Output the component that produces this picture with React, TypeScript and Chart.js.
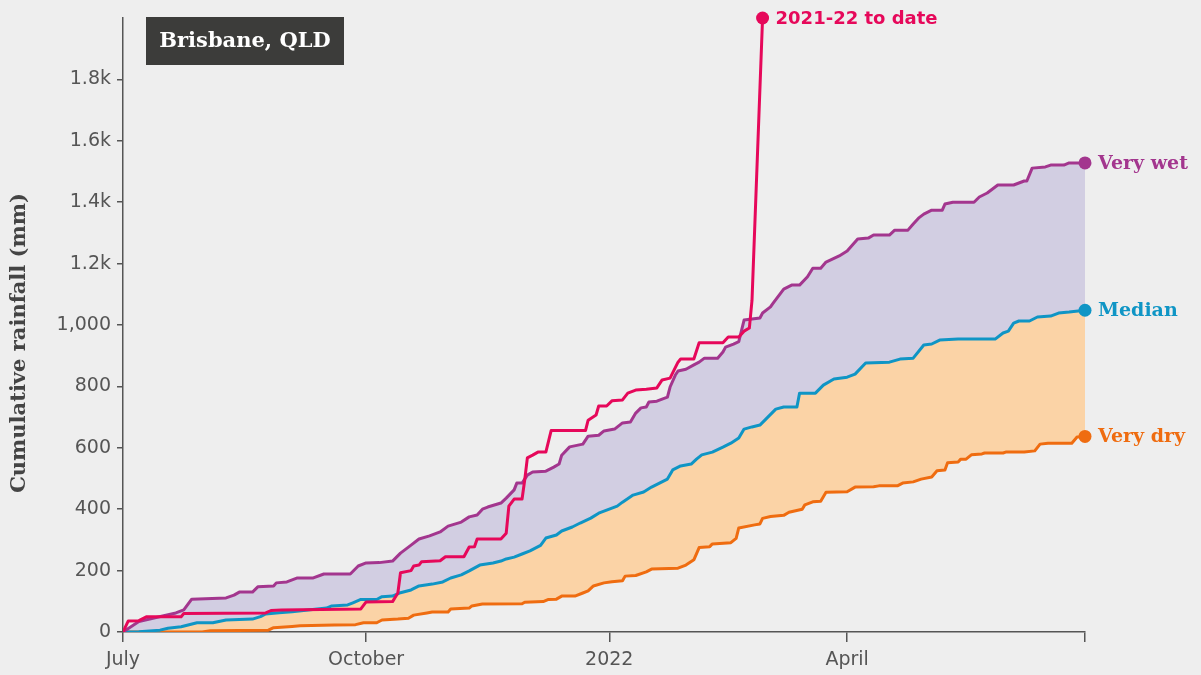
import React, { useEffect, useRef } from "react";
import { Chart, registerables } from "chart.js";

Chart.register(...registerables);

// ---- Axis ticks ----
const xTickDays = [0, 92, 184, 274, 364];
const xTickLabels = ["July", "October", "2022", "April", ""];
const yTickValues = [0, 200, 400, 600, 800, 1000, 1200, 1400, 1600, 1800];
const yTickLabels = ["0", "200", "400", "600", "800", "1,000", "1.2k", "1.4k", "1.6k", "1.8k"];

// ---- Series: [day since 1 July, cumulative mm] ----
const toDate2122: [number, number][] = [
  [0, 0], [2, 36], [6, 37], [9, 50], [22, 50], [23, 60], [54, 62], [56, 70], [60, 72],
  [90, 75], [92, 98], [102, 99], [104, 127], [105, 193], [109, 200], [110, 215],
  [112, 218], [113, 229], [120, 232], [122, 245], [129, 245], [131, 277], [133, 278],
  [134, 303], [143, 303], [145, 322], [146, 410], [148, 433], [151, 433], [152, 495],
  [153, 567], [155, 576], [157, 586], [160, 586], [162, 656], [175, 656], [176, 690],
  [179, 707], [180, 736], [183, 736], [185, 753], [189, 756], [191, 778], [194, 788],
  [198, 791], [202, 795], [204, 821], [207, 827], [210, 879], [211, 889], [216, 889],
  [218, 942], [227, 942], [229, 961], [233, 961], [235, 980], [237, 990], [238, 1080],
  [242, 2000],
];

const veryWet: [number, number][] = [
  [0, 0], [6, 34], [15, 52], [20, 62], [23, 72], [26, 107], [39, 111], [42, 120],
  [44, 130], [49, 130], [51, 147], [57, 150], [58, 160], [62, 163], [66, 176], [72, 176],
  [76, 189], [86, 189], [89, 215], [92, 225], [97, 226], [102, 231], [105, 257],
  [109, 283], [112, 303], [116, 313], [120, 326], [123, 345], [128, 358], [131, 375],
  [134, 381], [136, 400], [138, 407], [143, 420], [145, 436], [148, 463], [149, 485],
  [151, 485], [153, 511], [155, 521], [160, 524], [163, 537], [165, 547], [166, 576],
  [169, 603], [174, 612], [176, 638], [180, 641], [182, 655], [186, 661], [189, 681],
  [192, 684], [194, 713], [196, 730], [198, 733], [199, 749], [202, 752], [206, 765],
  [207, 798], [209, 837], [210, 850], [213, 856], [216, 870], [218, 879], [220, 892],
  [225, 892], [227, 912], [228, 928], [231, 938], [233, 946], [235, 1016], [241, 1023],
  [242, 1039], [245, 1059], [246, 1071], [250, 1117], [253, 1130], [256, 1130],
  [259, 1157], [261, 1185], [264, 1185], [266, 1205], [271, 1225], [274, 1241],
  [278, 1280], [282, 1283], [284, 1293], [290, 1293], [292, 1309], [297, 1309],
  [299, 1329], [301, 1348], [303, 1361], [306, 1374], [310, 1374], [311, 1394],
  [314, 1400], [322, 1400], [324, 1417], [327, 1430], [331, 1456], [337, 1456],
  [341, 1469], [342, 1469], [344, 1511], [349, 1515], [351, 1521], [356, 1521],
  [358, 1528], [364, 1528],
];

const median: [number, number][] = [
  [0, 0], [6, 1], [14, 6], [17, 12], [22, 17], [28, 30], [34, 30], [39, 39], [49, 42],
  [52, 50], [54, 59], [59, 63], [64, 66], [77, 78], [79, 85], [85, 88], [87, 95],
  [90, 106], [96, 106], [98, 115], [102, 117], [105, 128], [109, 137], [112, 150],
  [117, 156], [121, 163], [124, 176], [128, 186], [131, 199], [135, 218], [140, 225],
  [143, 231], [145, 238], [148, 244], [151, 254], [154, 264], [158, 282], [160, 306],
  [164, 316], [166, 329], [170, 342], [173, 355], [177, 371], [180, 387], [183, 397],
  [187, 410], [189, 423], [193, 446], [197, 456], [200, 472], [203, 485], [206, 498],
  [208, 528], [211, 541], [215, 547], [217, 563], [219, 577], [223, 586], [227, 602],
  [230, 615], [233, 632], [235, 661], [238, 668], [241, 674], [244, 700], [247, 726],
  [250, 733], [255, 733], [256, 778], [262, 778], [265, 804], [269, 824], [274, 830],
  [277, 840], [281, 876], [290, 879], [294, 889], [299, 892], [303, 935], [306, 938],
  [309, 951], [316, 954], [330, 954], [333, 974], [335, 980], [337, 1006], [339, 1013],
  [343, 1013], [346, 1026], [351, 1029], [354, 1039], [358, 1042], [364, 1048],
];

const veryDry: [number, number][] = [
  [0, 0], [30, 0], [33, 4], [55, 6], [57, 14], [64, 18], [67, 20], [80, 23], [88, 24],
  [91, 30], [96, 30], [98, 39], [104, 42], [108, 45], [110, 55], [115, 62], [117, 65],
  [123, 65], [124, 75], [131, 78], [132, 85], [136, 91], [151, 92], [152, 97],
  [159, 99], [161, 106], [164, 107], [166, 117], [171, 117], [174, 127], [176, 134],
  [178, 150], [182, 160], [185, 164], [189, 167], [190, 182], [194, 184], [198, 196],
  [200, 205], [210, 208], [213, 218], [216, 235], [218, 275], [222, 278], [223, 287],
  [230, 291], [232, 305], [233, 339], [239, 349], [241, 352], [242, 370], [245, 376],
  [250, 380], [252, 390], [257, 400], [258, 414], [261, 424], [264, 426], [266, 455],
  [274, 457], [277, 472], [284, 473], [286, 476], [293, 476], [295, 485], [299, 489],
  [302, 498], [306, 505], [308, 525], [311, 528], [312, 551], [316, 554], [317, 563],
  [319, 563], [321, 577], [325, 580], [326, 583], [333, 583], [334, 586], [341, 586],
  [345, 590], [347, 612], [350, 615], [359, 615], [361, 635], [364, 637],
];

const seriesNames = ["2021-22 to date", "Very wet", "Median", "Very dry"];
const seriesColors = ["#e6085a", "#a3368e", "#0f95c5", "#ef6c10"];
const fillColors = ["", "#d2cee2", "#fbd3a6", ""];
const titleText = "Brisbane, QLD";
const yAxisTitle = "Cumulative rainfall (mm)";

const SLAB = "'DejaVu Serif', serif";
const SANS = "'DejaVu Sans', sans-serif";

const toPts = (arr: [number, number][]) => arr.map(([x, y]) => ({ x, y }));

export default function App() {
  const ref = useRef<HTMLCanvasElement | null>(null);

  useEffect(() => {
    document.body.style.margin = "0";
    document.body.style.background = "#eeeeee";
    const canvas = ref.current;
    if (!canvas) return;

    const overlay = {
      id: "overlay",
      afterDatasetsDraw(chart: any) {
        const ctx = chart.ctx;
        ctx.save();
        chart.data.datasets.forEach((ds: any, i: number) => {
          const meta = chart.getDatasetMeta(i);
          const last = meta.data[meta.data.length - 1];
          if (!last) return;
          const color = seriesColors[i];
          ctx.fillStyle = color;
          ctx.beginPath();
          ctx.arc(last.x, last.y, 6.5, 0, Math.PI * 2);
          ctx.fill();
          ctx.textBaseline = "middle";
          ctx.textAlign = "left";
          ctx.font = i === 0 ? `bold 18px ${SANS}` : `bold 19px ${SLAB}`;
          ctx.fillText(seriesNames[i], last.x + 13, last.y + 1);
        });
        ctx.restore();
      },
      afterDraw(chart: any) {
        const ctx = chart.ctx;
        ctx.save();
        // title box
        ctx.fillStyle = "#3c3c3a";
        ctx.fillRect(146, 17, 198, 48);
        ctx.fillStyle = "#ffffff";
        ctx.font = `bold 21px ${SLAB}`;
        ctx.textAlign = "center";
        ctx.textBaseline = "middle";
        ctx.fillText(titleText, 245, 42);
        // y axis title
        ctx.translate(20, 343);
        ctx.rotate(-Math.PI / 2);
        ctx.fillStyle = "#444444";
        ctx.font = `bold 21px ${SLAB}`;
        ctx.fillText(yAxisTitle, 0, 0);
        ctx.restore();
      },
    };

    const chart = new Chart(canvas, {
      type: "line",
      data: {
        datasets: [
          {
            label: seriesNames[0],
            data: toPts(toDate2122),
            borderColor: seriesColors[0],
            borderWidth: 3,
            fill: false,
          },
          {
            label: seriesNames[1],
            data: toPts(veryWet),
            borderColor: seriesColors[1],
            backgroundColor: fillColors[1],
            borderWidth: 3,
            fill: { target: 2 },
          },
          {
            label: seriesNames[2],
            data: toPts(median),
            borderColor: seriesColors[2],
            backgroundColor: fillColors[2],
            borderWidth: 3,
            fill: { target: 3 },
          },
          {
            label: seriesNames[3],
            data: toPts(veryDry),
            borderColor: seriesColors[3],
            borderWidth: 3,
            fill: false,
          },
        ],
      },
      options: {
        animation: false,
        responsive: false,
        maintainAspectRatio: false,
        layout: { padding: { top: 18, right: 116, left: 0, bottom: 0 } },
        elements: {
          point: { radius: 0, hoverRadius: 0 },
          line: { tension: 0, borderJoinStyle: "round", borderCapStyle: "round" },
        },
        plugins: {
          legend: { display: false },
          tooltip: { enabled: false },
          filler: { drawTime: "beforeDatasetsDraw", propagate: false },
        } as any,
        scales: {
          x: {
            type: "linear",
            min: 0,
            max: 364,
            afterBuildTicks: (s: any) => {
              s.ticks = xTickDays.map((v) => ({ value: v }));
            },
            afterFit: (s: any) => {
              s.height = 43;
            },
            grid: {
              display: true,
              drawOnChartArea: false,
              drawTicks: true,
              tickLength: 10,
              color: "#555555",
              lineWidth: 1.5,
            },
            border: { display: true, color: "#555555", width: 1.5 },
            ticks: {
              autoSkip: false,
              maxRotation: 0,
              padding: 7,
              color: "#555555",
              font: { family: SANS, size: 19 },
              callback: (v: any) => {
                const i = xTickDays.indexOf(Number(v));
                return i >= 0 ? xTickLabels[i] : "";
              },
            },
          },
          y: {
            type: "linear",
            min: 0,
            max: 2000,
            afterBuildTicks: (s: any) => {
              s.ticks = yTickValues.map((v) => ({ value: v }));
            },
            afterFit: (s: any) => {
              s.width = 123;
            },
            grid: {
              display: true,
              drawOnChartArea: false,
              drawTicks: true,
              tickLength: 6,
              color: "#555555",
              lineWidth: 1.5,
            },
            border: { display: true, color: "#555555", width: 1.5 },
            ticks: {
              autoSkip: false,
              padding: 6,
              color: "#555555",
              font: { family: SANS, size: 19 },
              callback: (v: any) => {
                const i = yTickValues.indexOf(Number(v));
                return i >= 0 ? yTickLabels[i] : "";
              },
            },
          },
        },
      },
      plugins: [overlay],
    } as any);

    return () => chart.destroy();
  }, []);

  return (
    <div style={{ width: 1201, height: 675, background: "#eeeeee" }}>
      <canvas ref={ref} width={1201} height={675} style={{ display: "block", width: 1201, height: 675 }} />
    </div>
  );
}
